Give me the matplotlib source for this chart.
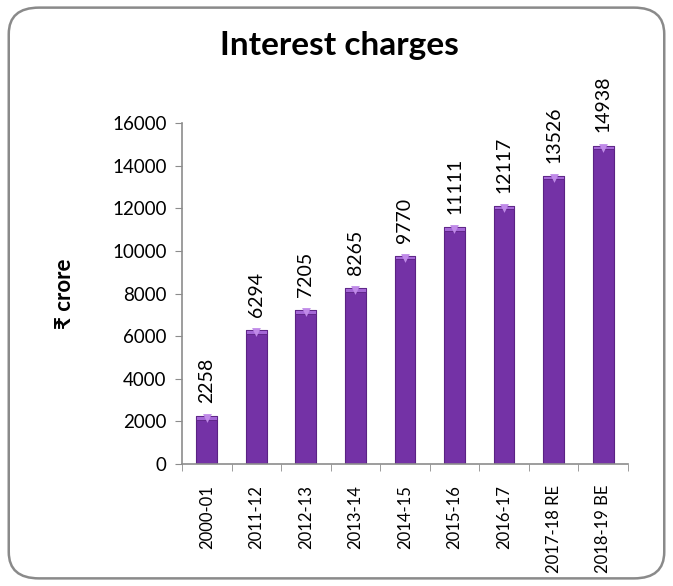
import matplotlib
matplotlib.use("Agg")
import numpy as np
from matplotlib import pyplot as plt
from matplotlib.patches import FancyBboxPatch

plt.rcParams['font.family'] = ['Lato', 'DejaVu Sans']

years = ['2000-01', '2011-12', '2012-13', '2013-14', '2014-15',
         '2015-16', '2016-17', '2017-18 RE', '2018-19 BE']
interest = [2258, 6294, 7205, 8265, 9770, 11111, 12117, 13526, 14938]
yticks = [0, 2000, 4000, 6000, 8000, 10000, 12000, 14000, 16000]

bar_col = '#7432a6'
cap_col = '#a467d6'
axis_col = '#8c8c8c'

fig = plt.figure(figsize=(6.73, 5.86), dpi=100)

# rounded frame around the whole chart
frame = FancyBboxPatch((0.013, 0.013), 0.974, 0.974, transform=fig.transFigure,
                       boxstyle='round,pad=0,rounding_size=0.045',
                       facecolor='none', edgecolor='#8a8a8a', linewidth=1.8,
                       zorder=-5)
fig.patches.append(frame)

ax = fig.add_axes([0.2704, 0.2082, 0.6626, 0.5818])
ax.set_facecolor('none')
x = np.arange(len(years))
width = 0.42

ax.bar(x, interest, width=width, color=bar_col, edgecolor='#5a2283', linewidth=0.8, zorder=2)
# lighter bevel at the top of each bar
cap_h = 170
ax.bar(x, [cap_h] * len(x), bottom=[v - cap_h for v in interest], width=width,
       color=cap_col, edgecolor='#5a2283', linewidth=0.6, zorder=3)
ax.scatter(x, [v - cap_h * 0.5 for v in interest], marker='v', s=40,
           color='#c08ae8', linewidths=0, zorder=4)

for xi, v in zip(x, interest):
    ax.annotate(str(v), (xi, v), xytext=(0, 9.5), textcoords='offset points',
                rotation=90, ha='center', va='bottom', fontsize=14, color='black')

ax.set_xlim(-0.5, len(years) - 0.5)
ax.set_ylim(0, 16000)
ax.set_yticks(yticks)
ax.set_yticklabels([str(t) for t in yticks], fontsize=13.5)
ax.set_xticks(x)
ax.set_xticklabels(years, rotation=90, fontsize=12)
ax.set_xticks(np.arange(len(years) + 1) - 0.5, minor=True)
ax.tick_params(axis='x', which='major', length=0, pad=15)
ax.tick_params(axis='x', which='minor', length=5, color=axis_col, direction='out')
ax.tick_params(axis='y', length=5, color=axis_col, direction='out', pad=6)

for side in ['top', 'right']:
    ax.spines[side].set_visible(False)
for side in ['left', 'bottom']:
    ax.spines[side].set_color(axis_col)
    ax.spines[side].set_linewidth(1.2)

ax.set_ylabel('₹ crore', fontsize=16, fontweight='bold', labelpad=27)

fig.text(0.505, 0.922, 'Interest charges', ha='center', va='center',
         fontsize=24, fontweight='bold')

fig.savefig('out.png', dpi=100)
